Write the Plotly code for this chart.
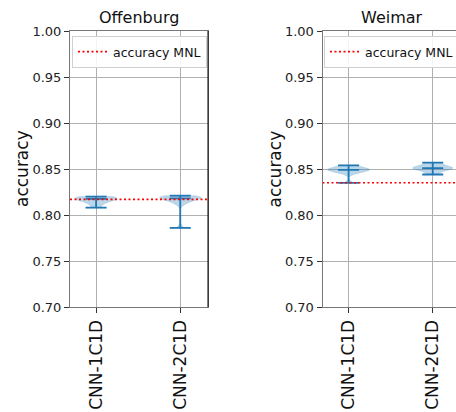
import numpy as np
import plotly.graph_objects as go

# ---- data ----
models = ["CNN-1C1D", "CNN-2C1D"]
sites = ["Offenburg", "Weimar"]
off_cnn_1c1d = [0.808, 0.812, 0.814, 0.816, 0.817, 0.818, 0.818, 0.819, 0.819, 0.820]
off_cnn_2c1d = [0.786, 0.812, 0.815, 0.817, 0.818, 0.818, 0.819, 0.820, 0.820, 0.821]
wei_cnn_1c1d = [0.835, 0.845, 0.847, 0.848, 0.849, 0.849, 0.850, 0.851, 0.852, 0.854]
wei_cnn_2c1d = [0.844, 0.847, 0.849, 0.850, 0.851, 0.851, 0.852, 0.853, 0.855, 0.857]
mnl_accuracy = [0.817, 0.835]
y_ticks = [0.70, 0.75, 0.80, 0.85, 0.90, 0.95, 1.00]

W, H = 456, 412
ML, MT, MB = 0, 31, 105
PH = H - MT - MB
C0 = "#1f77b4"
FONT = "DejaVu Sans"

px_per_unit = 84.15
ax_px = [(70, 208), (322.5, 456)]
xranges = []
for a, b in ax_px:
    lo = 0.69
    xranges.append([lo, lo + (b - a) / px_per_unit])

fig = go.Figure()
site_data = [[off_cnn_1c1d, off_cnn_2c1d], [wei_cnn_1c1d, wei_cnn_2c1d]]
pos = [1, 2]

for i, site in enumerate(sites):
    xa = "x" if i == 0 else "x2"
    ya = "y" if i == 0 else "y2"
    xs, ys = [], []
    for p, d in zip(pos, site_data[i]):
        xs += [p] * len(d)
        ys += list(d)
    fig.add_trace(go.Violin(
        x=xs, y=ys, xaxis=xa, yaxis=ya, width=0.5, spanmode="hard",
        points=False, box_visible=False, meanline_visible=False,
        fillcolor="rgba(31,119,180,0.3)",
        line=dict(color="rgba(31,119,180,0.3)", width=0.5),
        showlegend=False, hoverinfo="skip", scalemode="width"))
    # extrema & median bars
    lx, ly = [], []
    for p, d in zip(pos, site_data[i]):
        arr = np.array(d)
        mn, mx, md = arr.min(), arr.max(), np.median(arr)
        lx += [p, p, None]
        ly += [mn, mx, None]
        for v in (mn, mx, md):
            lx += [p - 0.125, p + 0.125, None]
            ly += [v, v, None]
    fig.add_trace(go.Scatter(x=lx, y=ly, xaxis=xa, yaxis=ya, mode="lines",
                             line=dict(color=C0, width=1.8), showlegend=False,
                             hoverinfo="skip"))
    fig.add_trace(go.Scatter(
        x=xranges[i], y=[mnl_accuracy[i]] * 2, xaxis=xa, yaxis=ya, mode="lines",
        line=dict(color="red", width=1.6, dash="2px,2.5px"),
        name="accuracy MNL", legend="legend" if i == 0 else "legend2",
        showlegend=True, hoverinfo="skip"))

axis_common = dict(showgrid=True, gridcolor="#b0b0b0", gridwidth=0.8,
                   showline=True, linecolor="#777", linewidth=1, mirror=True,
                   ticks="outside", ticklen=5, tickcolor="#333", zeroline=False,
                   automargin=False)

for i in range(2):
    a, b = ax_px[i]
    sfx = "" if i == 0 else "2"
    fig.layout["xaxis" + sfx] = dict(
        axis_common, domain=[a / W, min(b / W, 1.0)], range=xranges[i],
        tickvals=pos, ticktext=models, tickangle=-90,
        tickfont=dict(family=FONT, size=17, color="#111"),
        anchor="y" + sfx)
    fig.layout["yaxis" + sfx] = dict(
        axis_common, domain=[0, 1], range=[0.70, 1.00], tickvals=y_ticks,
        tickformat=".2f", tickfont=dict(family=FONT, size=13, color="#222"),
        anchor="x" + sfx, mirror=(i == 0))
    fig.add_annotation(text=sites[i], xref="paper", yref="paper",
                       x=((a + a + 138) / 2) / W, y=1 + (MT - 17) / PH,
                       xanchor="center", yanchor="middle", showarrow=False,
                       font=dict(family=FONT, size=16, color="#111"))
    fig.add_annotation(text="accuracy", xref="paper", yref="paper",
                       x=(a - 48) / W, y=0.5, textangle=-90,
                       xanchor="center", yanchor="middle", showarrow=False,
                       font=dict(family=FONT, size=17, color="#111"))

# black right spine of left panel
fig.add_shape(type="line", xref="paper", yref="paper", x0=208 / W, x1=208 / W,
              y0=0, y1=1, line=dict(color="black", width=1))

leg = dict(bgcolor="rgba(255,255,255,0.85)", bordercolor="#d0d0d0", borderwidth=1,
           font=dict(family=FONT, size=12.5, color="#111"),
           xanchor="left", yanchor="top", itemwidth=30)
fig.update_layout(
    width=W, height=H, margin=dict(l=ML, r=0, t=MT, b=MB, autoexpand=False),
    paper_bgcolor="white", plot_bgcolor="white",
    font=dict(family=FONT, color="#111"),
    legend=dict(leg, x=72 / W, y=1 - 5 / PH),
    legend2=dict(leg, x=324 / W, y=1 - 5 / PH),
    showlegend=True,
)

fig.write_html("out.html", config={"displayModeBar": False},
               post_script="document.body.style.margin='0';")
